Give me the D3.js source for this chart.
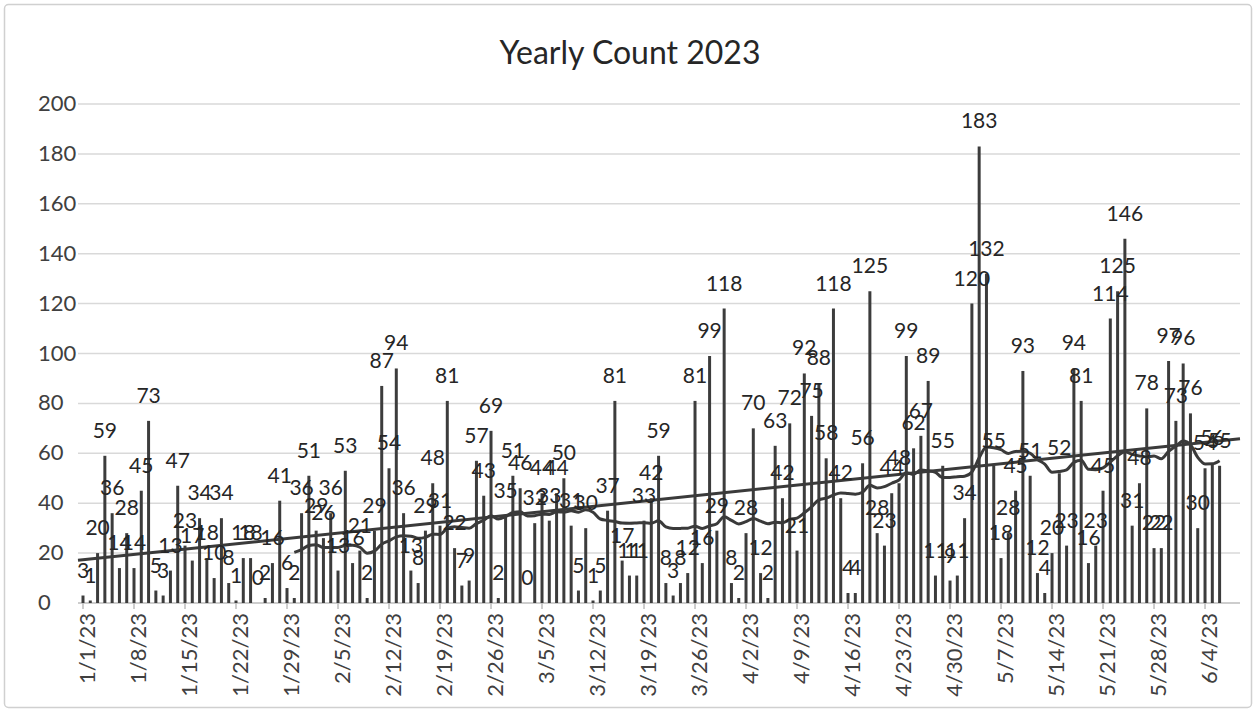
<!DOCTYPE html>
<html>
<head>
<meta charset="utf-8">
<script src="https://cdn.jsdelivr.net/npm/d3@7"></script>
<style>
  body { margin: 0; background: #fff; }
  svg { display: block; }
  text { font-family: Lato, "Open Sans", "DejaVu Sans", sans-serif; }
</style>
</head>
<body>
<svg id="chart" width="1257" height="713"></svg>
<script>
// ---------------- data ----------------
const chartTitle = "Yearly Count 2023";
const startDate = "1/1/23";
// daily counts, 1/1/23 .. 6/6/23
const counts = [
  3, 1, 20, 59, 36, 14, 28, 14, 45, 73,
  5, 3, 13, 47, 23, 17, 34, 18, 10, 34,
  8, 1, 18, 18, 0, 2, 16, 41, 6, 2,
  36, 51, 29, 26, 36, 13, 53, 16, 21, 2,
  29, 87, 54, 94, 36, 13, 8, 29, 48, 31,
  81, 22, 7, 9, 57, 43, 69, 2, 35, 51,
  46, 0, 32, 44, 33, 44, 50, 31, 5, 30,
  1, 5, 37, 81, 17, 11, 11, 33, 42, 59,
  8, 3, 8, 12, 81, 16, 99, 29, 118, 8,
  2, 28, 70, 12, 2, 63, 42, 72, 21, 92,
  75, 88, 58, 118, 42, 4, 4, 56, 125, 28,
  23, 44, 48, 99, 62, 67, 89, 11, 55, 9,
  11, 34, 120, 183, 132, 55, 18, 28, 45, 93,
  51, 12, 4, 20, 52, 23, 94, 81, 16, 23,
  45, 114, 125, 146, 31, 48, 78, 22, 22, 97,
  73, 96, 76, 30, 54, 56, 55
];
const yTickValues = [0, 20, 40, 60, 80, 100, 120, 140, 160, 180, 200];
const xTickLabels = [
  "1/1/23", "1/8/23", "1/15/23", "1/22/23", "1/29/23", "2/5/23", "2/12/23",
  "2/19/23", "2/26/23", "3/5/23", "3/12/23", "3/19/23", "3/26/23", "4/2/23",
  "4/9/23", "4/16/23", "4/23/23", "4/30/23", "5/7/23", "5/14/23", "5/21/23",
  "5/28/23", "6/4/23"
];
const movingAvgPeriod = 30;

// ---------------- layout ----------------
const plot = { left: 78, right: 1240, top: 104, bottom: 603 };
const svg = d3.select("#chart");
const parse = d3.timeParse("%m/%d/%y");
const start = parse(startDate);
const categories = d3.range(counts.length).map(i => d3.timeDay.offset(start, i));

const x = d3.scaleLinear().domain([0, counts.length - 1]).range([83, 1219.6]);
const y = d3.scaleLinear().domain([0, 200]).range([plot.bottom, plot.top]);

// background + border
svg.append("rect").attr("x", 0).attr("y", 0).attr("width", 1257).attr("height", 713).attr("fill", "#fff");
svg.append("rect").attr("x", 4.5).attr("y", 4.5).attr("width", 1247).attr("height", 703)
  .attr("rx", 4).attr("fill", "none").attr("stroke", "#d0d0d0").attr("stroke-width", 1.5);

// title
svg.append("text").attr("x", 630).attr("y", 64).attr("text-anchor", "middle")
  .attr("font-size", 32).attr("fill", "#262626").text(chartTitle);

// gridlines
svg.append("g").selectAll("line").data(yTickValues).join("line")
  .attr("x1", plot.left).attr("x2", plot.right)
  .attr("y1", d => y(d)).attr("y2", d => y(d))
  .attr("stroke", d => d === 0 ? "#bdbdbd" : "#d9d9d9").attr("stroke-width", 1.5);

// y labels
svg.append("g").selectAll("text").data(yTickValues).join("text")
  .attr("x", 38).attr("y", d => y(d) + 7).attr("text-anchor", "start")
  .attr("font-size", 22).attr("fill", "#404040").text(d => d);

// x ticks + labels
const tickIdx = xTickLabels.map(l => d3.timeDay.count(start, parse(l)));
svg.append("g").selectAll("line").data(tickIdx).join("line")
  .attr("x1", d => x(d)).attr("x2", d => x(d))
  .attr("y1", plot.bottom).attr("y2", plot.bottom + 6)
  .attr("stroke", "#bdbdbd").attr("stroke-width", 1.5);
svg.append("g").selectAll("text").data(xTickLabels).join("text")
  .attr("transform", (d, i) => `translate(${x(tickIdx[i]) + 12},${plot.bottom + 10}) rotate(-90)`)
  .attr("text-anchor", "end").attr("font-size", 22).attr("fill", "#404040").text(d => d);

// bars
svg.append("g").selectAll("line").data(counts).join("line")
  .attr("x1", (d, i) => x(i)).attr("x2", (d, i) => x(i))
  .attr("y1", y(0)).attr("y2", d => y(d))
  .attr("stroke", "#3c3c3c").attr("stroke-width", 3);

// moving average
const ma = counts.map((d, i) => i < movingAvgPeriod - 1 ? null :
  d3.mean(counts.slice(i - movingAvgPeriod + 1, i + 1)));
const maLine = d3.line().defined(d => d !== null).x((d, i) => x(i)).y(d => y(d)).curve(d3.curveMonotoneX);
svg.append("path").datum(ma).attr("d", maLine)
  .attr("fill", "none").attr("stroke", "#3a3a3a").attr("stroke-width", 3);

// linear trendline
const idx = d3.range(counts.length);
const mx = d3.mean(idx), my = d3.mean(counts);
const slope = d3.sum(idx, i => (i - mx) * (counts[i] - my)) / d3.sum(idx, i => (i - mx) ** 2);
const intercept = my - slope * mx;
const trendPts = [x.invert(plot.left), x.invert(plot.right)].map(t => [t, intercept + slope * t]);
svg.append("path").datum(trendPts)
  .attr("d", d3.line().x(d => x(d[0])).y(d => y(d[1])))
  .attr("fill", "none").attr("stroke", "#3a3a3a").attr("stroke-width", 3);

// data labels
svg.append("g").selectAll("text").data(counts).join("text")
  .attr("x", (d, i) => x(i)).attr("y", d => y(d) - 18)
  .attr("text-anchor", "middle").attr("font-size", 21).attr("fill", "#262626")
  .text(d => d);
</script>
</body>
</html>
